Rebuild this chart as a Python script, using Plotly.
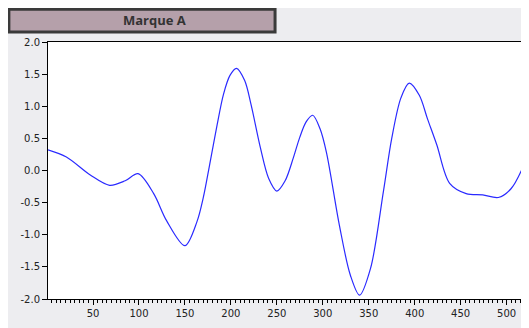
import plotly.graph_objects as go

# values
x_vals = [1, 21, 47, 68, 85, 99, 116, 130, 150, 163, 170, 177, 185, 192, 199, 206, 215,
          222, 232, 241, 250, 259, 268, 275, 282, 289, 297, 304, 318, 330, 340, 352, 366,
          375, 385, 394, 405, 414, 424, 438, 456, 474, 491, 505, 518]
y_vals = [0.32, 0.21, -0.07, -0.23, -0.16, -0.05, -0.36, -0.78, -1.17, -0.80, -0.42, 0.10,
          0.71, 1.19, 1.48, 1.59, 1.40, 1.02, 0.36, -0.12, -0.32, -0.16, 0.20, 0.52, 0.76,
          0.86, 0.65, 0.28, -0.85, -1.63, -1.94, -1.52, -0.32, 0.50, 1.13, 1.36, 1.17,
          0.80, 0.40, -0.20, -0.36, -0.38, -0.42, -0.28, 0.06]
title = "Marque A"

fig = go.Figure()
fig.add_trace(go.Scatter(x=x_vals, y=y_vals, mode="lines",
                         line=dict(color="#2a2aff", width=1.2, shape="spline", smoothing=0.9)))

# title box (the page has an 8px body margin, so the figure is 8px smaller)
fig.add_shape(type="rect", xref="paper", yref="paper", x0=-0.082, x1=0.476, y0=1.039, y1=1.127,
              fillcolor="#b5a0aa", line=dict(color="#3a3a3a", width=3))
fig.add_annotation(text="<b>" + title + "</b>", xref="paper", yref="paper", x=0.224, y=1.085,
                   xanchor="center", yanchor="middle", showarrow=False,
                   font=dict(family="Open Sans", size=13, color="#333333"))

fig.update_xaxes(range=[1, 520], tickvals=[50, 100, 150, 200, 250, 300, 350, 400, 450, 500],
                 ticks="outside", ticklen=5, tickcolor="black", showgrid=False, zeroline=False,
                 showline=True, linecolor="black", linewidth=1, mirror=True, automargin=False,
                 minor=dict(dtick=5, tick0=0, ticks="outside", ticklen=3, tickcolor="black"),
                 tickfont=dict(family="DejaVu Sans", size=10, color="#222"))
fig.update_yaxes(range=[-2, 2], tickvals=[-2, -1.5, -1, -0.5, 0, 0.5, 1, 1.5, 2],
                 ticktext=["-2.0", "-1.5", "-1.0", "-0.5", "0.0", "0.5", "1.0", "1.5", "2.0"],
                 ticks="outside", ticklen=5, tickcolor="black", showgrid=False, zeroline=False,
                 showline=True, linecolor="black", linewidth=1, mirror=True, automargin=False,
                 tickfont=dict(family="DejaVu Sans", size=10, color="#222"))

fig.update_layout(width=521, height=320, showlegend=False,
                  paper_bgcolor="#ededf0", plot_bgcolor="white",
                  margin=dict(l=40, r=4, t=34, b=29, autoexpand=False))
fig.write_html("out.html")
